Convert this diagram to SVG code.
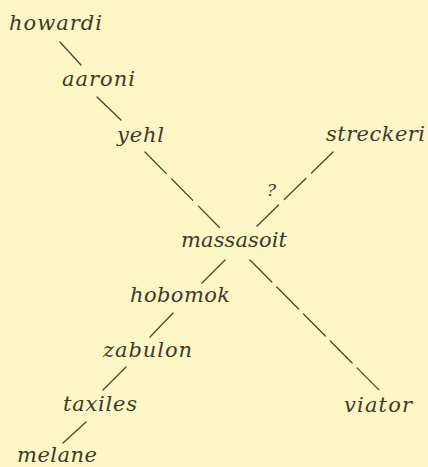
<svg xmlns="http://www.w3.org/2000/svg" width="428" height="467" viewBox="0 0 428 467">
<style>
.bg{fill:#fcf6c6}
.t{font-family:'DejaVu Serif','Liberation Serif',serif;font-style:italic;font-size:21px;fill:#3d3a28}
.q{font-family:'DejaVu Serif','Liberation Serif',serif;font-style:italic;font-size:17px;fill:#3d3a28}
.l{stroke:#4a4630;stroke-width:1.3;fill:none;stroke-linecap:round}
.d{stroke-dasharray:30 8}
.d2{stroke-dasharray:31 7}
</style>
<rect class="bg" x="0" y="0" width="428" height="467"/>
<g id="connectors">
<line class="l" x1="60" y1="42" x2="81" y2="65"/>
<line class="l" x1="97" y1="97" x2="121" y2="120"/>
<line class="l d" x1="145" y1="152" x2="220" y2="228"/>
<line class="l d" x1="333" y1="152" x2="255" y2="228"/>
<line class="l d2" x1="250" y1="260" x2="379" y2="390"/>
<line class="l" x1="225" y1="260" x2="202" y2="283"/>
<line class="l" x1="173" y1="313" x2="150" y2="337"/>
<line class="l" x1="126" y1="367" x2="103" y2="390"/>
<line class="l" x1="86" y1="422" x2="63" y2="443"/>
<text class="q" x="267" y="196">?</text>
</g>
<g id="howardi"><text class="t" x="9" y="30" textLength="93" lengthAdjust="spacing">howardi</text></g>
<g id="aaroni"><text class="t" x="62" y="86" textLength="73" lengthAdjust="spacing">aaroni</text></g>
<g id="yehl"><text class="t" x="117" y="142" textLength="47" lengthAdjust="spacing">yehl</text></g>
<g id="streckeri"><text class="t" x="326" y="141" textLength="99" lengthAdjust="spacing">streckeri</text></g>
<g id="massasoit"><text class="t" x="181" y="247" textLength="106" lengthAdjust="spacing">massasoit</text></g>
<g id="hobomok"><text class="t" x="130" y="302" textLength="100" lengthAdjust="spacing">hobomok</text></g>
<g id="zabulon"><text class="t" x="103" y="357" textLength="89" lengthAdjust="spacing">zabulon</text></g>
<g id="taxiles"><text class="t" x="63" y="411" textLength="74" lengthAdjust="spacing">taxiles</text></g>
<g id="viator"><text class="t" x="344" y="412" textLength="68" lengthAdjust="spacing">viator</text></g>
<g id="melane"><text class="t" x="17" y="462" textLength="80" lengthAdjust="spacing">melane</text></g>
</svg>
